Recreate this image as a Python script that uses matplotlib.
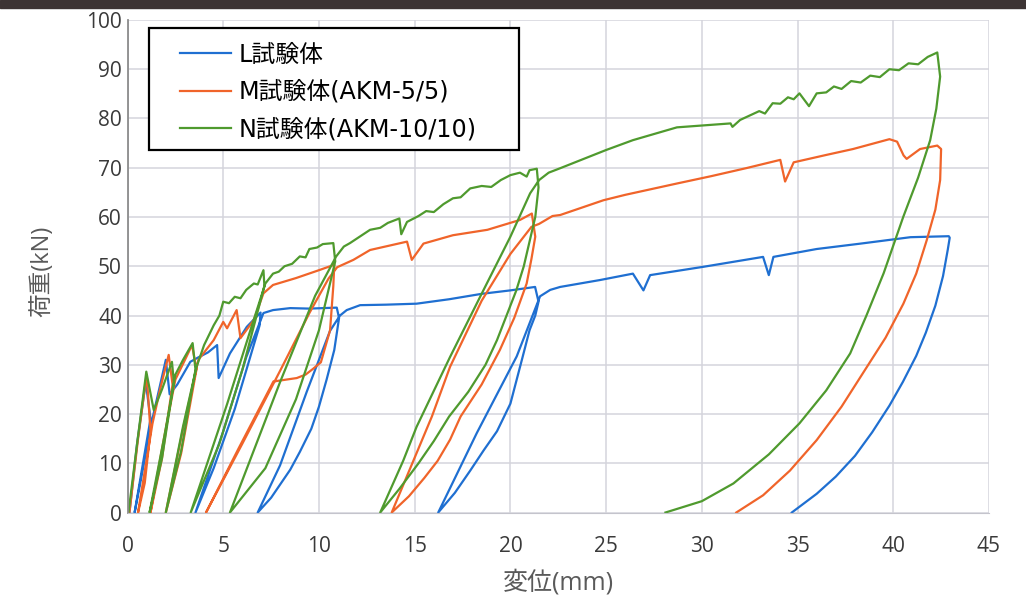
import matplotlib
matplotlib.use("Agg")
import matplotlib.pyplot as plt
from matplotlib.patches import Rectangle
import numpy as np

plt.rcParams['font.family'] = ['Open Sans', 'Noto Sans CJK JP', 'DejaVu Sans']

labels = ["L試験体", "M試験体(AKM-5/5)", "N試験体(AKM-10/10)"]
colors = ["#1f6fd1", "#f0642a", "#4f9a2e"]
xticks = list(range(0, 46, 5))
yticks = list(range(0, 101, 10))

# displacement (mm), load (kN)
L_pts = [(0.1, 0), (0.5, 14), (0.95, 26.5), (1.2, 19), (0.37, 0), (1.3, 19), (2.0, 31), (2.2, 24),
         (2.6, 26), (3.28, 30.6), (3.7, 31.5), (4.2, 32.5), (4.68, 34.0), (4.76, 27.3), (5.35, 32.3),
         (6.23, 37.7), (6.95, 40.6), (6.9, 38), (5.6, 21), (4.5, 9), (3.55, 0), (5.0, 16.5),
         (6.2, 31.5), (7.1, 40.5), (7.6, 41.1), (8.5, 41.5), (9.5, 41.4), (10.93, 41.6),
         (11.05, 39.5), (10.8, 33), (10.4, 27), (10.0, 21.5), (9.6, 17), (9.0, 12.3), (8.5, 8.7),
         (7.5, 3), (6.8, 0), (7.97, 9.6), (9.36, 24.5), (10.58, 36.9), (11.1, 40), (11.45, 41.1),
         (12.15, 42.1), (13.5, 42.2), (15.1, 42.4), (16.8, 43.3), (18.5, 44.4), (20.0, 45.1),
         (21.29, 45.8), (21.47, 42.8), (21.3, 40), (21.0, 37), (20.6, 31), (20.0, 22.1),
         (19.3, 16.5), (18.6, 12.6), (17.9, 8.5), (17.1, 4), (16.23, 0), (18.24, 16.1),
         (20.33, 31.7), (21.55, 43.9), (22.08, 45.2), (22.6, 45.8), (24.68, 47.2), (26.4, 48.5),
         (26.95, 45.1), (27.3, 48.2), (30.1, 49.9), (33.2, 51.9), (33.5, 48.2), (33.74, 51.9),
         (36.0, 53.5), (38.3, 54.6), (40.9, 55.9), (42.9, 56.1), (42.95, 55.8), (42.85, 53.4),
         (42.6, 48), (42.2, 42), (41.7, 36.5), (41.2, 31.8), (40.5, 26.5), (39.8, 21.7),
         (38.9, 16.3), (38.0, 11.5), (37.0, 7.3), (36.0, 3.8), (34.7, 0)]

M_pts = [(0.1, 0), (0.55, 15), (1.0, 28), (1.2, 16.5), (0.9, 6), (0.55, 0), (1.3, 18), (1.7, 25),
         (2.15, 32), (2.35, 26), (1.8, 11), (1.2, 0), (1.9, 15), (2.5, 27), (3.0, 31), (3.37, 34),
         (3.6, 29), (2.8, 12), (2.0, 0), (2.9, 17), (3.7, 31), (4.2, 33.5), (4.5, 35), (5.0, 38.7),
         (5.2, 37.4), (5.7, 41.1), (5.9, 35.4), (6.6, 39.1), (7.1, 44.5), (7.6, 46.2), (8.8, 47.6),
         (10.0, 49.2), (10.8, 50.3), (10.75, 46), (10.58, 37), (10.1, 30.5), (9.7, 29.2), (9.3, 28),
         (8.84, 27.3), (7.62, 26.6), (5.8, 13), (4.1, 0), (6.0, 14), (8.0, 29), (9.5, 40.5),
         (10.5, 47.5), (10.95, 49.8), (11.8, 51.3), (12.67, 53.3), (14.6, 55), (14.85, 51.3),
         (15.46, 54.6), (17.0, 56.3), (18.8, 57.4), (20.5, 59.4), (21.12, 60.7), (21.3, 56),
         (21.1, 51.5), (20.85, 46.5), (20.2, 39.5), (19.45, 33), (18.5, 26), (17.4, 19.5),
         (16.85, 14.8), (16.2, 10.5), (15.5, 7), (14.7, 3.3), (13.8, 0), (15.9, 19.5),
         (16.85, 29.6), (18.5, 43), (20.0, 52.5), (21.1, 58), (21.5, 58.6), (22.2, 60.2),
         (22.6, 60.4), (24.86, 63.4), (26.0, 64.5), (28.7, 66.8), (30.5, 68.3), (32.3, 69.9),
         (34.1, 71.6), (34.35, 67.2), (34.8, 71.1), (36.5, 72.6), (37.9, 73.8), (39.8, 75.8),
         (40.2, 75.3), (40.54, 72.5), (40.7, 71.8), (41.4, 73.8), (42.3, 74.5), (42.5, 73.8),
         (42.45, 67.5), (42.2, 61.5), (41.75, 55.3), (41.2, 48.5), (40.53, 42.4), (39.6, 35.5),
         (38.4, 28.2), (37.3, 21.5), (36.0, 14.7), (34.6, 8.5), (33.2, 3.5), (31.8, 0)]

N_pts = [(0.05, 0), (0.5, 14), (0.98, 28.6), (1.37, 20.8), (1.8, 25), (2.32, 30.6), (2.42, 26.5),
         (1.8, 11), (1.15, 0), (1.9, 15), (2.5, 28), (2.9, 31), (3.4, 34.4), (3.55, 29), (2.8, 12.5),
         (2.0, 0), (2.9, 17.5), (3.6, 29.5), (4.0, 34), (4.5, 38), (4.8, 40), (5.0, 42.8),
         (5.3, 42.5), (5.6, 43.8), (5.9, 43.5), (6.2, 45.2), (6.6, 46.5), (6.8, 46.3), (7.1, 49.2),
         (7.15, 46), (6.0, 29), (4.8, 14), (3.3, 0), (5.2, 22), (6.5, 38), (7.2, 46.5), (7.6, 48.5),
         (7.9, 48.9), (8.2, 50), (8.6, 50.5), (9.0, 52), (9.3, 51.8), (9.5, 53.5), (9.9, 53.8),
         (10.2, 54.5), (10.75, 54.7), (10.85, 51), (10.0, 37), (8.8, 23), (7.2, 9), (5.35, 0),
         (7.97, 26.5), (9.8, 44), (10.9, 52), (11.3, 54), (11.62, 54.7), (12.67, 57.4),
         (13.2, 57.8), (13.6, 58.8), (14.2, 59.7), (14.3, 56.5), (14.6, 59), (15.2, 60.2),
         (15.6, 61.2), (16.0, 61), (16.5, 62.6), (17.0, 63.8), (17.4, 64), (17.9, 65.8),
         (18.5, 66.3), (19.0, 66.1), (19.5, 67.5), (20.0, 68.5), (20.5, 69), (20.85, 68.2),
         (21.0, 69.5), (21.38, 69.8), (21.47, 66.0), (21.3, 60), (21.0, 55), (20.7, 50), (20.3, 45),
         (19.8, 40), (19.3, 35), (18.7, 30), (17.8, 24.5), (16.8, 19.5), (16.0, 14.5), (15.2, 10),
         (14.2, 4.8), (13.2, 0), (14.4, 10.5), (15.1, 17.4), (16.85, 31.6), (18.6, 45.2),
         (20.0, 56), (21.03, 64.8), (21.5, 67.5), (22.0, 69), (22.6, 69.9), (25.0, 73.6),
         (26.4, 75.6), (28.7, 78.2), (31.5, 79.0), (31.6, 78.3), (32.0, 79.7), (32.5, 80.6),
         (33.0, 81.5), (33.3, 81.0), (33.7, 83.1), (34.1, 83.0), (34.5, 84.3), (34.8, 83.9),
         (35.1, 85.1), (35.6, 82.5), (36.0, 85.1), (36.5, 85.3), (36.9, 86.5), (37.3, 86.0),
         (37.8, 87.6), (38.3, 87.3), (38.8, 88.7), (39.3, 88.4), (39.8, 90.0), (40.3, 89.8),
         (40.8, 91.2), (41.3, 91.0), (41.8, 92.5), (42.3, 93.4), (42.45, 88.5), (42.25, 82),
         (41.93, 75.6), (41.3, 68), (40.53, 60.1), (39.5, 48.6), (38.6, 40), (37.75, 32.3),
         (36.5, 24.8), (35.1, 18.1), (33.5, 11.8), (31.65, 5.9), (30.0, 2.3), (28.1, 0)]

fig = plt.figure(figsize=(10.26, 6.0), dpi=100)
# dark strip along the top edge of the scan
fig.patches.append(Rectangle((0, 1 - 8 / 600), 1, 8 / 600, transform=fig.transFigure,
                             color='#3d3434', zorder=0))
ax = fig.add_axes([0.1243, 0.1458, 0.8396, 0.8209])

for pts, c, lab in zip([L_pts, M_pts, N_pts], colors, labels):
    xy = np.array(pts)
    ax.plot(xy[:, 0], xy[:, 1], color=c, lw=1.6, label=lab, solid_joinstyle='round')

ax.set_xlim(0, 45)
ax.set_ylim(0, 100)
ax.set_xticks(xticks)
ax.set_yticks(yticks)
ax.grid(color='#d4d4dc', lw=1.1)
ax.set_axisbelow(True)
for s in ['top', 'right']:
    ax.spines[s].set_visible(False)
ax.spines['left'].set_color('#8c8c8c')
ax.spines['left'].set_linewidth(1.3)
ax.spines['bottom'].set_color('#c4c4cc')
ax.tick_params(length=0, labelsize=15, colors='#3a3a3a')
ax.tick_params(axis='x', pad=17)
ax.tick_params(axis='y', pad=4)

ax.set_xlabel('変位(mm)', fontsize=18, color='#5a5a5a')
ax.xaxis.set_label_coords(0.5, -0.115)
ax.set_ylabel('荷重(kN)', fontsize=17, color='#5a5a5a')
ax.yaxis.set_label_coords(-0.085, 0.49)

# legend box drawn by hand, legend itself without frame
ax.add_patch(Rectangle((0.025, 0.736), 0.429, 0.248, transform=ax.transAxes,
                       facecolor='white', edgecolor='black', lw=1.6, zorder=4))
leg = ax.legend(loc='center left', bbox_to_anchor=(0.061, 0.854), frameon=False,
                prop={'family': ['DejaVu Sans', 'Noto Sans CJK JP'], 'size': 17.2},
                handlelength=2.15, handletextpad=0.3, labelspacing=0.55,
                borderpad=0, borderaxespad=0)
leg.set_zorder(5)

fig.savefig('out.png', dpi=100)
